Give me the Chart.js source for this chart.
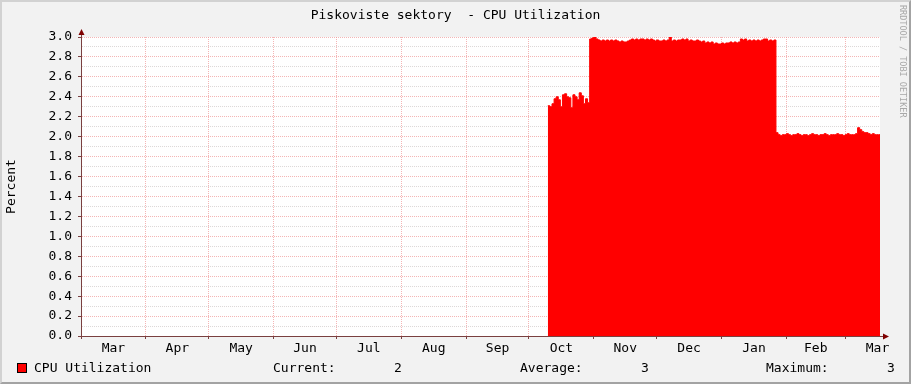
<!DOCTYPE html>
<html>
<head>
<meta charset="utf-8">
<script src="https://cdn.jsdelivr.net/npm/chart.js@4.4.0/dist/chart.umd.min.js"></script>
<style>
  html, body { margin: 0; padding: 0; background: #f2f2f2; }
  #wrap { position: relative; width: 911px; height: 384px; background: #f2f2f2; overflow: hidden;
          font-family: "DejaVu Sans Mono", monospace; font-size: 13px; color: #000; }
  #chart { position: absolute; left: 0; top: 0; }
  #frame { position: absolute; left: 0; top: 0; right: 0; bottom: 0; pointer-events: none;
           border-top: 2px solid #d2d2d2; border-left: 2px solid #d2d2d2;
           border-right: 2px solid #a3a3a3; border-bottom: 2px solid #a3a3a3; }
  .txt { position: absolute; white-space: pre; line-height: 13px; }
  #title { left: 0; width: 911px; top: 8px; text-align: center; }
  #stamp { left: 898px; top: 5px; font-size: 8.5px; line-height: 9px; color: #a8a8a8; writing-mode: vertical-rl; }
  .box { position: absolute; left: 17px; top: 363px; width: 8px; height: 8px; background: #ff0000; border: 1px solid #000; }
</style>
</head>
<body>
<div id="wrap">
  <canvas id="chart" width="911" height="384"></canvas>
  <div class="txt" id="title">Piskoviste sektory  - CPU Utilization</div>
  <div class="txt" id="stamp">RRDTOOL / TOBI OETIKER</div>
  <div class="box"></div>
  <div class="txt" style="left:34px; top:361px;">CPU Utilization</div>
  <div class="txt" style="left:273px; top:361px;">Current:</div>
  <div class="txt" style="left:394px; top:361px;">2</div>
  <div class="txt" style="left:520px; top:361px;">Average:</div>
  <div class="txt" style="left:641px; top:361px;">3</div>
  <div class="txt" style="left:766px; top:361px;">Maximum:</div>
  <div class="txt" style="left:887px; top:361px;">3</div>
  <div id="frame"></div>
</div>
<script>
// months on the time axis (day 0 = 1 Mar)
const monthLabels = ['Mar', 'Apr', 'May', 'Jun', 'Jul', 'Aug', 'Sep', 'Oct', 'Nov', 'Dec', 'Jan', 'Feb', 'Mar'];
const monthDays = [31, 30, 31, 30, 31, 31, 30, 31, 30, 31, 31, 28, 31];
const axisEndDay = 381.7;

// daily CPU utilization (percent), first sample on day 223
const cpuStartDay = 223;
const cpuValues = [
  // Oct
  2.31, 2.30, 2.33, 2.38, 2.40, 2.37, 2.30, 2.42, 2.43, 2.40,
  2.39, 2.29, 2.42, 2.40, 2.37, 2.44, 2.41, 2.33, 2.38, 2.34,
  // end Oct .. Jan
  2.98, 2.99, 3.00, 2.98, 2.97,
  2.96, 2.97, 2.96, 2.97, 2.96, 2.97, 2.96, 2.97, 2.96,
  2.95, 2.96, 2.95, 2.95, 2.96,
  2.97, 2.98, 2.97, 2.98, 2.97, 2.98, 2.98, 2.97, 2.98, 2.97, 2.98, 2.97,
  2.96, 2.97, 2.96, 2.96, 2.97, 2.96, 2.97, 3.00,
  2.96, 2.97, 2.96, 2.97, 2.97,
  2.98, 2.97, 2.98,
  2.96, 2.97, 2.96, 2.96, 2.97, 2.96,
  2.95, 2.96, 2.94, 2.95, 2.94, 2.95,
  2.93, 2.94, 2.93, 2.93, 2.94, 2.93, 2.94,
  2.94, 2.95, 2.94, 2.95, 2.94, 2.95,
  2.98, 2.97, 2.98,
  2.96, 2.97, 2.96, 2.97, 2.96, 2.97, 2.96, 2.97,
  2.98, 2.98,
  2.96, 2.97, 2.96, 2.97,
  // end Jan .. Mar
  2.04, 2.02, 2.01, 2.02, 2.02, 2.03, 2.02, 2.01, 2.02, 2.02,
  2.03, 2.02, 2.01, 2.02, 2.02, 2.01, 2.02, 2.03, 2.02, 2.02,
  2.01, 2.02, 2.02, 2.03, 2.02, 2.01, 2.02, 2.02, 2.02, 2.03,
  2.02, 2.02, 2.01, 2.02, 2.03, 2.02, 2.02, 2.02, 2.03, 2.09,
  2.07, 2.05, 2.04, 2.04, 2.03, 2.02, 2.03, 2.02, 2.02, 2.02
];

const yMax = 3.0;
const yStep = 0.1;

const majorGrid = 'rgba(240, 150, 150, 0.7)';
const minorGrid = 'rgba(205, 200, 200, 0.7)';
const axisColor = '#7a4040';

// month boundaries get grid lines, month middles get the labels
let boundaries = [0];
let middles = {};
for (let i = 0; i < monthDays.length; i++) {
    let start = boundaries[boundaries.length - 1];
    middles[start + monthDays[i] / 2] = monthLabels[i];
    boundaries.push(start + monthDays[i]);
}
const xTicks = boundaries.filter(d => d < axisEndDay)
    .concat(Object.keys(middles).map(Number).filter(d => d < axisEndDay))
    .sort((a, b) => a - b);

let points = cpuValues.map((v, i) => ({x: cpuStartDay + i, y: v}));
points.push({x: axisEndDay, y: cpuValues[cpuValues.length - 1]});

const isMajorY = v => Math.round(v * 10) % 2 === 0;

const canvasBg = {
    id: 'canvasBg',
    beforeDraw(chart) {
        const a = chart.chartArea;
        chart.ctx.save();
        chart.ctx.fillStyle = '#ffffff';
        chart.ctx.fillRect(a.left, a.top, a.right - a.left, a.bottom - a.top);
        chart.ctx.restore();
    },
    afterDraw(chart) {
        const a = chart.chartArea;
        const ctx = chart.ctx;
        ctx.save();
        ctx.strokeStyle = axisColor;
        ctx.lineWidth = 1;
        ctx.beginPath();
        ctx.moveTo(a.left + 0.5, a.top);
        ctx.lineTo(a.left + 0.5, a.top - 4);
        ctx.moveTo(a.right, a.bottom + 0.5);
        ctx.lineTo(a.right + 5, a.bottom + 0.5);
        ctx.stroke();
        // arrow heads
        ctx.fillStyle = '#7f0000';
        ctx.beginPath();
        ctx.moveTo(a.left + 0.5, a.top - 8);
        ctx.lineTo(a.left - 2.5, a.top - 2);
        ctx.lineTo(a.left + 3.5, a.top - 2);
        ctx.closePath();
        ctx.fill();
        ctx.beginPath();
        ctx.moveTo(a.right + 9, a.bottom + 0.5);
        ctx.lineTo(a.right + 3, a.bottom - 2.5);
        ctx.lineTo(a.right + 3, a.bottom + 3.5);
        ctx.closePath();
        ctx.fill();
        ctx.restore();
    }
};

new Chart(document.getElementById('chart'), {
    type: 'line',
    data: {
        datasets: [{
            label: 'CPU Utilization',
            data: points,
            stepped: true,
            fill: 'origin',
            backgroundColor: '#ff0000',
            borderColor: '#ff0000',
            borderWidth: 1,
            pointRadius: 0
        }]
    },
    options: {
        responsive: false,
        animation: false,
        devicePixelRatio: 1,
        layout: {padding: {top: 37, left: 0, right: 31, bottom: 28}},
        plugins: {
            legend: {display: false},
            title: {display: false},
            tooltip: {enabled: false}
        },
        scales: {
            x: {
                type: 'linear',
                min: 0,
                max: axisEndDay,
                z: 1,
                afterFit: s => { s.height = 20; },
                afterBuildTicks: s => { s.ticks = xTicks.map(v => ({value: v})); },
                grid: {
                    color: c => (c.tick && middles[c.tick.value] === undefined) ? majorGrid : 'transparent',
                    tickColor: c => (c.tick && middles[c.tick.value] === undefined) ? axisColor : 'transparent',
                    tickLength: 3,
                    lineWidth: 1
                },
                border: {color: axisColor, width: 1, dash: [1, 1]},
                ticks: {
                    autoSkip: false,
                    maxRotation: 0,
                    padding: 2,
                    color: '#000',
                    font: {family: 'DejaVu Sans Mono', size: 13},
                    callback: v => middles[v] || ''
                }
            },
            y: {
                min: 0,
                max: yMax,
                z: 1,
                afterFit: s => { s.width = 81; },
                afterBuildTicks: s => {
                    let t = [];
                    for (let i = 0; i <= Math.round(yMax / yStep); i++) t.push({value: i / 10});
                    s.ticks = t;
                },
                grid: {
                    color: c => (c.tick && isMajorY(c.tick.value)) ? majorGrid : minorGrid,
                    tickColor: c => (c.tick && isMajorY(c.tick.value)) ? axisColor : 'transparent',
                    tickLength: 3,
                    lineWidth: 1
                },
                border: {color: axisColor, width: 1, dash: [1, 1]},
                ticks: {
                    autoSkip: false,
                    padding: 6,
                    color: '#000',
                    font: {family: 'DejaVu Sans Mono', size: 13},
                    callback: v => isMajorY(v) ? v.toFixed(1) : ''
                },
                title: {
                    display: true,
                    text: 'Percent',
                    color: '#000',
                    font: {family: 'DejaVu Sans Mono', size: 13}
                }
            }
        }
    },
    plugins: [canvasBg]
});
</script>
</body>
</html>
